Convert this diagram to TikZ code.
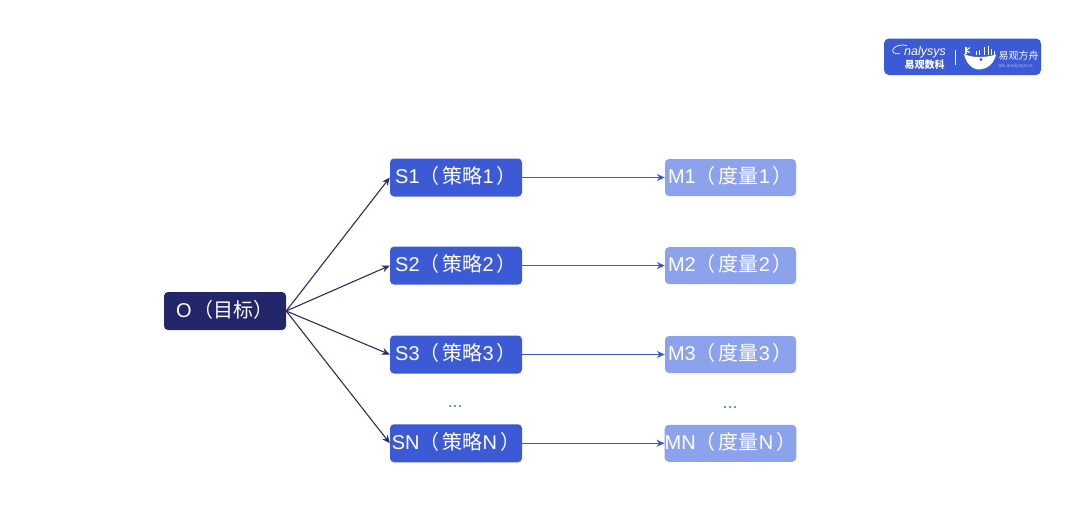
\documentclass[tikz,border=0pt]{standalone}
\usepackage{fontspec}
\setmainfont{Liberation Sans}
\newfontfamily\cjk{Noto Sans CJK SC}
\usetikzlibrary{arrows.meta}
\definecolor{cO}{HTML}{23266B}
\definecolor{cS}{HTML}{3C5AD5}
\definecolor{cM}{HTML}{8DA2EC}
\definecolor{cE}{HTML}{2C2C66}
\definecolor{cF}{HTML}{3F55C8}
\definecolor{cD}{HTML}{4A86BE}
\newcommand{\lbl}[3]{#1{\cjk （}\hspace{3pt}{\cjk #2}#3\hspace{3pt}{\cjk ）}}
\tikzset{
  box/.style={rectangle,rounded corners=4pt,text=white,inner sep=0pt,font=\fontsize{20}{24}\selectfont,text height=16pt,text depth=3.7pt},
  obox/.style={box,fill=cO,minimum width=122pt,minimum height=38pt},
  sbox/.style={box,fill=cS,minimum width=132pt,minimum height=38pt},
  mbox/.style={box,fill=cM,minimum width=131pt,minimum height=37pt},
  darrow/.style={draw=cE,line width=1.1pt,-{Stealth[length=8pt,width=7pt]}},
  barrow/.style={draw=cF,line width=1.1pt,-{Stealth[length=8pt,width=7pt]}},
  dotslabel/.style={text=cD,font=\fontsize{18}{20}\selectfont,inner sep=0pt},
  logotext/.style={text=white,inner sep=0pt}
}
\begin{document}
\begin{tikzpicture}[x=1pt,y=-1pt]
\useasboundingbox (0,0) rectangle (1080,520);
\fill[white] (0,0) rectangle (1080,520);
% main nodes
\node[obox] (O) at (225,311) {O\hspace{2pt}{\cjk （目标）}};
\node[sbox] (S1) at (456,177.5) {\lbl{S1}{策略}{1}};
\node[sbox] (S2) at (456,265.6) {\lbl{S2}{策略}{2}};
\node[sbox] (S3) at (456,354.5) {\lbl{S3}{策略}{3}};
\node[sbox] (SN) at (456,443.25) {\lbl{SN}{策略}{N}};
\node[mbox] (M1) at (730.5,177.5) {\lbl{M1}{度量}{1}};
\node[mbox] (M2) at (730.5,265.6) {\lbl{M2}{度量}{2}};
\node[mbox] (M3) at (730.5,354.5) {\lbl{M3}{度量}{3}};
\node[mbox] (MN) at (730.5,443.25) {\lbl{MN}{度量}{N}};
\node[dotslabel] (d1) at (455,407) {...};
\node[dotslabel] (d2) at (730,408) {...};
% connectors
\foreach \t in {S1,S2,S3,SN} \draw[darrow] (O.east) -- (\t.west);
\draw[barrow] (S1) -- (M1);
\draw[barrow] (S2) -- (M2);
\draw[barrow] (S3) -- (M3);
\draw[barrow] (SN) -- (MN);
% logo
\fill[cS,rounded corners=5pt] (884,38.5) rectangle (1041,75);
\node[logotext,font=\fontsize{12.5}{13}\selectfont\itshape] (l1) at (925,52) {nalysys};
\draw[white,line width=.7pt] (900,53.5) .. controls (893,55) and (891,51) .. (894,48) .. controls (897,45) and (902,44.5) .. (907,45.5);
\node[logotext,font=\fontsize{10}{11}\selectfont\cjk\bfseries] (l2) at (924.5,64.5) {易观数科};
\draw[white,line width=.7pt] (955,50) -- (955,65);
\fill[white] (964,54) .. controls (972,58) and (985,58) .. (996,54.5) .. controls (994,64) and (987,69) .. (980,69.5) .. controls (972,70) and (966,63) .. (964,54) -- cycle;
\fill[cS] (981,59.5) circle (1.6pt);
\draw[white,line width=1.2pt] (966,47) -- (966,54);
\draw[white,line width=.9pt] (966,50.5) -- (970,47.5) (966,50.5) -- (970,52.5);
\foreach \px/\py in {976/51,979.5/50,984/47,988/45.5,991.5/49,994.5/51}
  \draw[white,line width=1pt] (\px,\py) -- (\px,55);
\node[logotext,font=\fontsize{10}{11}\selectfont\cjk] (l3) at (1018.5,56) {易观方舟};
\node[logotext,opacity=.55,font=\fontsize{5}{6}\selectfont] (l4) at (1015.5,66.5) {ark.analysys.cn};
\end{tikzpicture}
\end{document}
